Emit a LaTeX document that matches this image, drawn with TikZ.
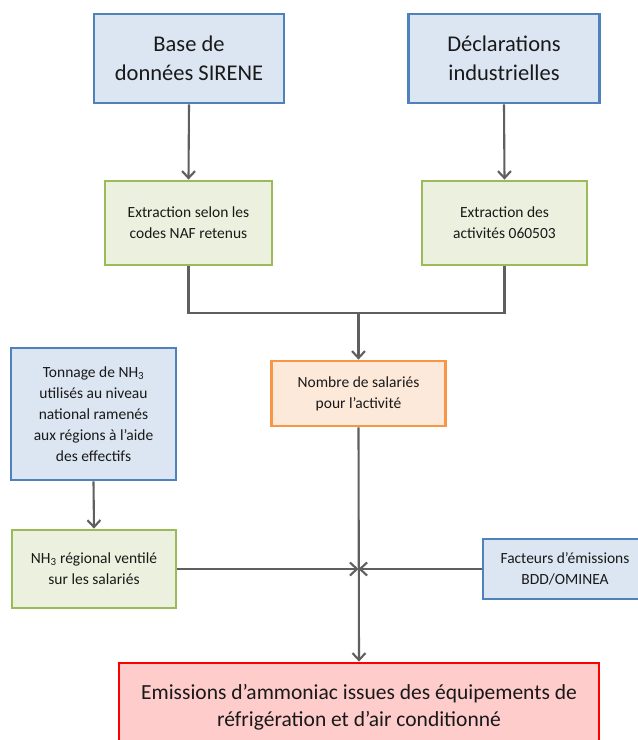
\documentclass[tikz,border=0pt]{standalone}
\usepackage{fontspec}
\setmainfont{Carlito}
\usetikzlibrary{arrows.meta}
\definecolor{bluefill}{HTML}{DCE6F2}
\definecolor{blueline}{HTML}{4F81BD}
\definecolor{greenfill}{HTML}{EBF1DE}
\definecolor{greenline}{HTML}{9BBB59}
\definecolor{orangefill}{HTML}{FDE9D9}
\definecolor{orangeline}{HTML}{F79646}
\definecolor{redfill}{HTML}{FFCCCC}
\definecolor{redline}{HTML}{FF0000}
\definecolor{conn}{HTML}{5F5F5F}
\tikzset{
  box/.style={rectangle, line width=2.8pt, align=center, inner sep=0pt, text=black!90},
  bluebox/.style={box, draw=blueline, fill=bluefill},
  greenbox/.style={box, draw=greenline, fill=greenfill},
  orangebox/.style={box, draw=orangeline, fill=orangefill},
  redbox/.style={box, draw=redline, fill=redfill},
  bigtext/.style={font=\fontsize{22.5}{29}\selectfont},
  smalltext/.style={font=\fontsize{15.5}{21}\selectfont},
  finaltext/.style={font=\fontsize{21.5}{27}\selectfont},
  conline/.style={draw=conn, line width=2.1pt},
  arr/.style={conline, -{Straight Barb[length=7pt,width=13pt,line width=2.1pt]}},
}
\begin{document}
\begin{tikzpicture}[x=1pt,y=-1pt]
\clip (0,0) rectangle (638,740);
\fill[white] (0,0) rectangle (638,740);

\node[bluebox, bigtext, minimum width=190pt, minimum height=89pt] (sirene) at (189,58.5) {Base de\\données SIRENE};
\node[bluebox, bigtext, minimum width=191pt, minimum height=89pt] (decl) at (504,58.5) {Déclarations\\industrielles};

\node[greenbox, smalltext, minimum width=167pt, minimum height=84pt] (naf) at (188.5,223) {Extraction selon les\\codes NAF retenus};
\node[greenbox, smalltext, minimum width=165pt, minimum height=84pt] (act) at (504.5,223) {Extraction des\\activités 060503};

\node[orangebox, smalltext, minimum width=174pt, minimum height=65pt] (nombre) at (358.5,393.5) {Nombre de salariés\\pour l’activité};

\node[bluebox, smalltext, minimum width=165pt, minimum height=132pt] (tonnage) at (93.5,414) {Tonnage de NH\textsubscript{3}\\utilisés au niveau\\national ramenés\\aux régions à l’aide\\des effectifs};

\node[greenbox, smalltext, minimum width=164pt, minimum height=78pt] (nh3) at (94,569) {NH\textsubscript{3} régional ventilé\\sur les salariés};

\node[bluebox, smalltext, minimum width=164pt, minimum height=60pt] (fact) at (565,569) {Facteurs d’émissions\\BDD/OMINEA};

\node[redbox, finaltext, minimum width=480pt, minimum height=88pt] (final) at (359,707) {Emissions d’ammoniac issues des équipements de\\réfrigération et d’air conditionné};

\coordinate (join) at (358.5,313);
\coordinate (cross) at (358.5,569);

\draw[arr] (sirene.south) -- (naf.north);
\draw[arr] (decl.south) -- (act.north);
\draw[conline] (naf.south) |- (join);
\draw[conline] (act.south) |- (join);
\draw[arr] (join) -- (nombre.north);
\draw[arr] (tonnage.south) -- (nh3.north);
\draw[arr] (nombre.south) -- (final.north);
\draw[arr] (nh3.east) -- (cross);
\draw[arr] (fact.west) -- (cross);
\end{tikzpicture}
\end{document}
